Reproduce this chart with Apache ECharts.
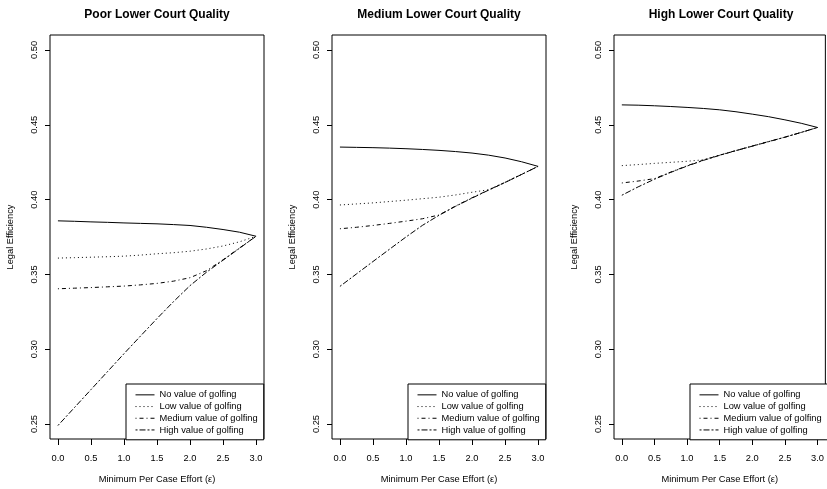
<!DOCTYPE html>
<html>
<head>
<meta charset="utf-8">
<script src="https://cdn.jsdelivr.net/npm/echarts@6/dist/echarts.min.js"></script>
<style>
html, body { margin: 0; padding: 0; background: #fff; }
#chart { width: 827px; height: 489px; }
</style>
</head>
<body>
<div id="chart"></div>
<script>
// minimum per case effort (x)
const effort = [0, 0.25, 0.5, 0.75, 1, 1.25, 1.5, 1.75, 2, 2.25, 2.5, 2.75, 3];
const xTicks = [0, 0.5, 1, 1.5, 2, 2.5, 3];
const yTicks = [0.25, 0.30, 0.35, 0.40, 0.45, 0.50];

const panelTitles = ['Poor Lower Court Quality', 'Medium Lower Court Quality', 'High Lower Court Quality'];
const seriesNames = ['No value of golfing', 'Low value of golfing', 'Medium value of golfing', 'High value of golfing'];

// Poor lower court quality
const poorNone   = [0.3858, 0.3855, 0.3851, 0.3848, 0.3844, 0.3841, 0.3838, 0.3833, 0.3827, 0.3815, 0.3800, 0.3782, 0.3755];
const poorLow    = [0.3609, 0.3612, 0.3615, 0.3618, 0.3622, 0.3629, 0.3638, 0.3645, 0.3655, 0.3670, 0.3690, 0.3718, 0.3755];
const poorMedium = [0.3404, 0.3408, 0.3412, 0.3417, 0.3422, 0.3430, 0.3440, 0.3455, 0.3478, 0.3525, 0.3598, 0.3677, 0.3755];
const poorHigh   = [0.2490, 0.2610, 0.2730, 0.2850, 0.2970, 0.3088, 0.3205, 0.3318, 0.3425, 0.3515, 0.3595, 0.3675, 0.3755];

// Medium lower court quality
const medNone   = [0.4351, 0.4349, 0.4347, 0.4344, 0.4340, 0.4335, 0.4329, 0.4321, 0.4311, 0.4297, 0.4278, 0.4253, 0.4222];
const medLow    = [0.3964, 0.3971, 0.3978, 0.3987, 0.3996, 0.4006, 0.4016, 0.4031, 0.4049, 0.4066, 0.4116, 0.4169, 0.4222];
const medMedium = [0.3805, 0.3815, 0.3827, 0.3841, 0.3856, 0.3872, 0.3897, 0.3957, 0.4012, 0.4064, 0.4115, 0.4168, 0.4222];
const medHigh   = [0.3420, 0.3503, 0.3586, 0.3668, 0.3750, 0.3828, 0.3895, 0.3955, 0.4010, 0.4063, 0.4114, 0.4168, 0.4222];

// High lower court quality
const highNone   = [0.4633, 0.4631, 0.4627, 0.4622, 0.4616, 0.4609, 0.4600, 0.4587, 0.4571, 0.4554, 0.4533, 0.4510, 0.4482];
const highLow    = [0.4227, 0.4234, 0.4242, 0.4249, 0.4256, 0.4266, 0.4298, 0.4328, 0.4358, 0.4388, 0.4418, 0.4449, 0.4482];
const highMedium = [0.4111, 0.4124, 0.4140, 0.4184, 0.4226, 0.4264, 0.4297, 0.4328, 0.4358, 0.4388, 0.4417, 0.4449, 0.4482];
const highHigh   = [0.4029, 0.4085, 0.4136, 0.4182, 0.4224, 0.4262, 0.4296, 0.4327, 0.4357, 0.4387, 0.4417, 0.4449, 0.4482];

const panels = [
    [poorNone, poorLow, poorMedium, poorHigh],
    [medNone, medLow, medMedium, medHigh],
    [highNone, highLow, highMedium, highHigh]
];

const lineTypes = ['solid', [1, 3], [1, 3, 4, 3], [2, 2, 6, 2]];
const gridLefts = [50, 332, 614];
const font = 'Liberation Sans, Arial, Helvetica, sans-serif';

const chart = echarts.init(document.getElementById('chart'), null, { renderer: 'canvas' });

const grids = [], xAxes = [], yAxes = [], titles = [], legends = [], series = [];

gridLefts.forEach(function (left, p) {
    grids.push({
        left: left, top: 35, width: 214, height: 405,
        show: true, borderColor: '#000', borderWidth: 1, backgroundColor: 'transparent'
    });
    xAxes.push({
        type: 'value', gridIndex: p, min: -0.12, max: 3.12,
        name: 'Minimum Per Case Effort (\u03b5)', nameLocation: 'middle', nameGap: 36,
        nameTextStyle: { fontSize: 9.3, color: '#000', fontFamily: font },
        axisLine: { show: false, onZero: false },
        axisTick: { show: true, inside: false, length: 6, customValues: xTicks, lineStyle: { color: '#000' } },
        axisLabel: {
            customValues: xTicks, margin: 15, fontSize: 9.3, color: '#000', fontFamily: font,
            formatter: function (v) { return v.toFixed(1); }
        },
        splitLine: { show: false }
    });
    yAxes.push({
        type: 'value', gridIndex: p, min: 0.24, max: 0.51,
        name: 'Legal Efficiency', nameLocation: 'middle', nameGap: 35,
        nameTextStyle: { fontSize: 9.3, color: '#000', fontFamily: font },
        axisLine: { show: false, onZero: false },
        axisTick: { show: true, inside: false, length: 5, customValues: yTicks, lineStyle: { color: '#000' } },
        axisLabel: {
            customValues: yTicks, rotate: 90, margin: 11, fontSize: 9.3, color: '#000', fontFamily: font,
            formatter: function (v) { return v.toFixed(2); }
        },
        splitLine: { show: false }
    });
    titles.push({
        text: panelTitles[p], left: left + 107, top: 9, textAlign: 'center', padding: 0,
        textStyle: { fontSize: 12, fontWeight: 'bold', color: '#000', fontFamily: font }
    });
    legends.push({
        data: seriesNames, orient: 'vertical', left: left + 76, top: 384,
        padding: [5, 6, 4, 9], itemGap: 0, itemWidth: 19, itemHeight: 8,
        borderColor: '#000', borderWidth: 1, backgroundColor: '#fff',
        itemStyle: { opacity: 0 },
        lineStyle: { width: 1 },
        textStyle: { fontSize: 9.3, lineHeight: 11.7, color: '#000', fontFamily: font },
        selectedMode: false
    });
    panels[p].forEach(function (vals, s) {
        series.push({
            name: seriesNames[s], type: 'line', xAxisIndex: p, yAxisIndex: p,
            data: effort.map(function (x, i) { return [x, vals[i]]; }),
            symbol: 'none', smooth: false,
            lineStyle: { color: '#000', width: 1, type: lineTypes[s] },
            itemStyle: { color: '#000' },
            z: 2
        });
    });
});

chart.setOption({
    animation: false,
    backgroundColor: '#fff',
    title: titles,
    legend: legends,
    grid: grids,
    xAxis: xAxes,
    yAxis: yAxes,
    series: series
});
</script>
</body>
</html>
